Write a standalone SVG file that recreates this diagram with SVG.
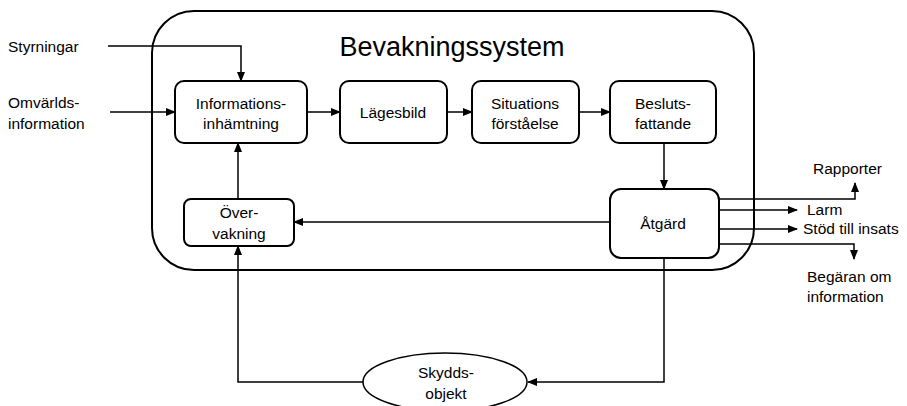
<svg xmlns="http://www.w3.org/2000/svg" width="907" height="406" viewBox="0 0 907 406">
<defs>
<marker id="ah" markerWidth="10" markerHeight="8" refX="9" refY="4" orient="auto" markerUnits="userSpaceOnUse">
<path d="M0,0 L10,4 L0,8 Z" fill="#000"/>
</marker>
<style>
text{font-family:"Liberation Sans",Arial,sans-serif;font-size:15.5px;fill:#000}
.c{text-anchor:middle}
.box{fill:#fff;stroke:#000;stroke-width:2}
.ln{fill:none;stroke:#000;stroke-width:1.5}
.ar{fill:none;stroke:#000;stroke-width:1.5;marker-end:url(#ah)}
</style>
</defs>
<rect width="907" height="406" fill="#fff"/>
<g id="system">
<rect x="152" y="11" width="602" height="259" rx="42" ry="42" fill="none" stroke="#000" stroke-width="2"/>
<text x="452" y="56" class="c" style="font-size:27px">Bevakningssystem</text>
</g>
<g id="connectors">
<path class="ar" d="M108,46 H241 V81"/>
<path class="ar" d="M110,112 H175"/>
<path class="ar" d="M307,112 H340"/>
<path class="ar" d="M447,112 H472"/>
<path class="ar" d="M579,112 H610"/>
<path class="ar" d="M664,143 V189"/>
<path class="ar" d="M610,222 H294"/>
<path class="ar" d="M238,199 V143"/>
<path class="ar" d="M664,258 V382 H528"/>
<path class="ar" d="M363,382 H238 V246"/>
<path class="ar" d="M719,199 H855 V183"/>
<path class="ar" d="M719,210 H797"/>
<path class="ar" d="M719,229 H797"/>
<path class="ar" d="M719,244 H854 V259"/>
</g>
<g id="styrningar"><text x="8" y="52">Styrningar</text></g>
<g id="omvarlds"><text x="8" y="108">Omvärlds-</text><text x="8" y="129">information</text></g>
<g id="informationsinhamtning">
<rect class="box" x="175" y="81" width="132" height="62" rx="9"/>
<text x="241" y="109" class="c">Informations-</text>
<text x="241" y="129" class="c">inhämtning</text>
</g>
<g id="lagesbild">
<rect class="box" x="340" y="81" width="107" height="62" rx="9"/>
<text x="393" y="118" class="c">Lägesbild</text>
</g>
<g id="situationsforstaelse">
<rect class="box" x="472" y="81" width="107" height="62" rx="9"/>
<text x="525" y="109" class="c">Situations</text>
<text x="525" y="129" class="c">förståelse</text>
</g>
<g id="beslutsfattande">
<rect class="box" x="610" y="81" width="106" height="62" rx="9"/>
<text x="663" y="109" class="c">Besluts-</text>
<text x="663" y="129" class="c">fattande</text>
</g>
<g id="overvakning">
<rect class="box" x="184" y="199" width="110" height="47" rx="7"/>
<text x="239" y="218" class="c">Över-</text>
<text x="239" y="239" class="c">vakning</text>
</g>
<g id="atgard">
<rect class="box" x="610" y="189" width="109" height="69" rx="11"/>
<text x="663" y="229" class="c">Åtgärd</text>
</g>
<g id="skyddsobjekt">
<ellipse cx="445" cy="382" rx="82" ry="29" fill="#fff" stroke="#000" stroke-width="1.5"/>
<text x="446" y="378" class="c">Skydds-</text>
<text x="446" y="399" class="c">objekt</text>
</g>
<g id="rapporter"><text x="813" y="174">Rapporter</text></g>
<g id="larm"><text x="807" y="215">Larm</text></g>
<g id="stod"><text x="803" y="234">Stöd till insats</text></g>
<g id="begaran"><text x="807" y="282">Begäran om</text><text x="807" y="302">information</text></g>
</svg>
